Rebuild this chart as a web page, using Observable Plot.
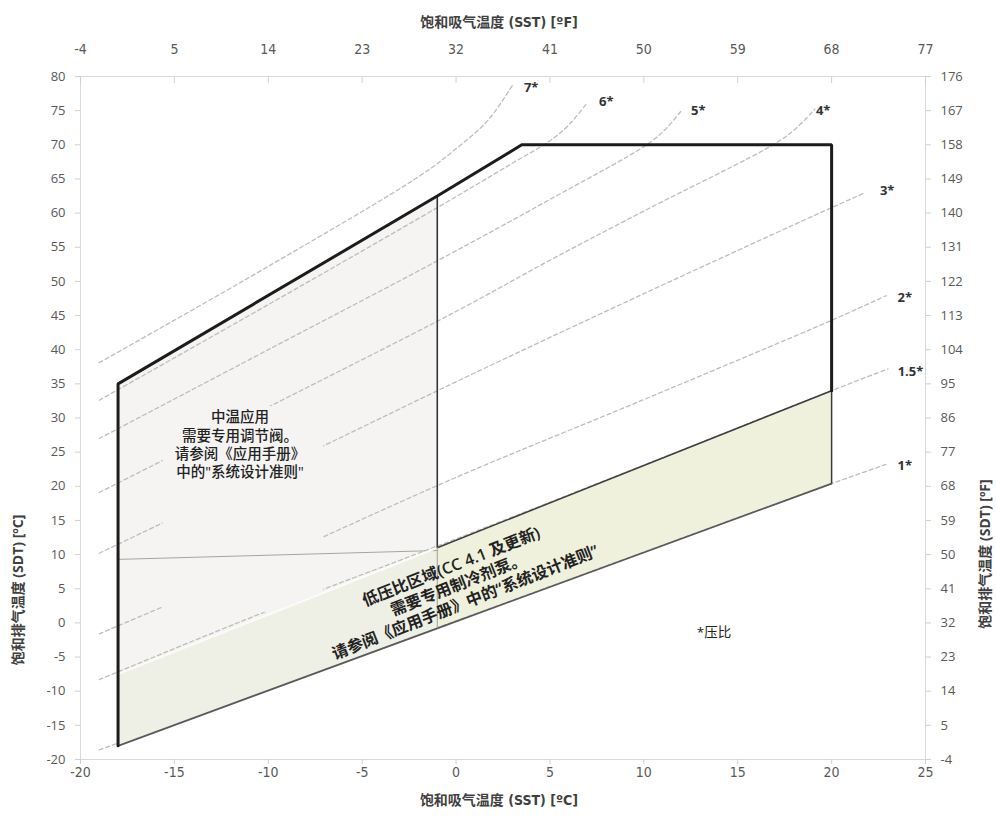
<!DOCTYPE html>
<html><head><meta charset="utf-8">
<script src="https://cdn.jsdelivr.net/npm/d3@7"></script>
<script src="https://cdn.jsdelivr.net/npm/@observablehq/plot@0.6"></script>
<style>body{margin:0;background:#fff} #chart svg{display:block}</style>
</head><body><div id="chart"></div>
<script>
// ---- axes ----
const xTicks = [-20,-15,-10,-5,0,5,10,15,20,25];
const topTickLabels = ["-4","5","14","23","32","41","50","59","68","77"];
const yTicks = [-20,-15,-10,-5,0,5,10,15,20,25,30,35,40,45,50,55,60,65,70,75,80];
const rightTickLabels = ["-4","5","14","23","32","41","50","59","68","77","86","95","104","113","122","131","140","149","158","167","176"];
const titleTop = "饱和吸气温度 (SST) [ºF]";
const titleBottom = "饱和吸气温度 (SST) [ºC]";
const titleLeft = "饱和排气温度 (SDT) [ºC]";
const titleRight = "饱和排气温度 (SDT) [ºF]";

// ---- operating envelope ----
const envelopeSST = [-18, -18, -1, 3.5, 20, 20];
const envelopeSDT = [-18, 35, 62.5, 70, 70, 34];

// medium-temperature zone
const mediumSST = [-18, -1];
const mediumTop = [35, 62.5];
const mediumBottom = [9.3, 10.6];

// low compression ratio zone
const lowSST = [-18, -1, 20];
const lowTop = [-7.5, 11, 34];
const lowBottom = [-18, -0.8, 20.4];

// note background box (data space)
const noteBoxSST = [-15.6, -7.05];
const noteBoxSDT = [1.5, 31.7];

// ---- compression ratio curves ----
const ratioLabels = ["7*","6*","5*","4*","3*","2*","1.5*","1*"];
const r7SST = [-19, -10, -1.9, -0.1, 1.7, 3.0];
const r7SDT = [38.1, 52.2, 65.5, 69.2, 73.6, 78.7];
const r6SST = [-19, -10, -1, 3, 5, 6, 7.0];
const r6SDT = [32.6, 46.6, 60.8, 67.3, 70.6, 72.9, 76.2];
const r5SST = [-19, -10, -0.8, 5, 10.2, 11.2, 12.0];
const r5SDT = [27.0, 40.0, 53.3, 62.0, 70.1, 72.4, 75.0];
const r4SST = [-19, -10, 0, 5, 10, 17, 18.1, 19.1];
const r4SDT = [19.1, 31.6, 45.6, 53.1, 60.3, 70.2, 72.4, 75.2];
const r3SST = [-19, -7, 0, 10, 20, 21.8];
const r3SDT = [10.2, 26.0, 35.3, 48.2, 60.8, 63.0];
const r2SST = [-19, -10, 0, 10, 20, 22.9];
const r2SDT = [-1.6, 9.0, 21.3, 32.7, 44.3, 47.9];
const r15SST = [-19, -10, 0, 10, 20, 23.0];
const r15SDT = [-8.3, 1.8, 12.3, 23.1, 34.0, 37.2];
const r1SST = [-19, 0, 20, 22.9];
const r1SDT = [-18.6, 0.3, 20.4, 23.2];
const ratioLabelSST = [4.0, 8.0, 12.9, 19.55, 22.96, 23.9, 24.2, 23.9];
const ratioLabelSDT = [78.4, 76.3, 75.0, 75.0, 63.3, 47.6, 36.7, 23.0];

// ---- notes ----
const mediumNote = "中温应用\n需要专用调节阀。\n请参阅《应用手册》\n中的\"系统设计准则\"";
const mediumNoteSST = -11.5, mediumNoteSDT = 26.2;
const lowNote = "低压比区域(CC 4.1 及更新)\n需要专用制冷剂泵。\n请参阅《应用手册》中的“系统设计准则”";
const lowNoteSST = 0.1, lowNoteSDT = 5.7;
const footNote = "*压比";
const footNoteSST = 13.74, footNoteSDT = -1.4;

// ---- build tables ----
const curveSets = [[r7SST,r7SDT],[r6SST,r6SDT],[r5SST,r5SDT],[r4SST,r4SDT],[r3SST,r3SDT],[r2SST,r2SDT],[r15SST,r15SDT],[r1SST,r1SDT]];
const curves = curveSets.flatMap(([xs, ys], k) => xs.map((x, i) => ({ratio: ratioLabels[k], x, y: ys[i]})));
const ratioText = ratioLabels.map((t, i) => ({t, x: ratioLabelSST[i], y: ratioLabelSDT[i]}));
const envelope = envelopeSST.map((x, i) => ({x, y: envelopeSDT[i]}));
const medium = mediumSST.map((x, i) => ({x, y1: mediumBottom[i], y2: mediumTop[i]}));
const lowLeftGap = mediumSST.map((x, i) => ({x, y1: lowTop[i], y2: mediumBottom[i]}));
const lowRows = lowSST.map((x, i) => ({x, y1: lowBottom[i], y2: lowTop[i]}));
const lowLeft = lowRows.slice(0, 2);
const lowRight = lowRows.slice(1);

const cond = "'DejaVu Sans Condensed','Liberation Sans Narrow','Noto Sans CJK SC',sans-serif";
const noteFont = "'Open Sans','Noto Sans CJK SC',sans-serif";
const grayZone = "#f5f4f2";
const plain = d => String(d);

const chart = Plot.plot({
  width: 996, height: 836,
  marginLeft: 80, marginRight: 71, marginTop: 76, marginBottom: 77,
  x: {domain: [-20, 25]},
  y: {domain: [-20, 80]},
  style: {fontFamily: "'Open Sans','Noto Sans CJK SC',sans-serif", fontSize: "12px", color: "#595959", background: "#fff"},
  marks: [
    Plot.areaY(medium, {x: "x", y1: "y1", y2: "y2", fill: grayZone}),
    Plot.areaY(lowLeftGap, {x: "x", y1: "y1", y2: "y2", fill: grayZone}),
    Plot.areaY(lowRight, {x: "x", y1: "y1", y2: "y2", fill: "#eff1dc"}),
    Plot.line(curves, {x: "x", y: "y", z: "ratio", stroke: "#bdbdbd", strokeWidth: 1.3, strokeDasharray: "4,3", curve: "catmull-rom"}),
    Plot.rect([0], {x1: () => noteBoxSST[0], x2: () => noteBoxSST[1], y1: () => noteBoxSDT[0], y2: () => noteBoxSDT[1], fill: grayZone}),
    Plot.areaY(lowLeft, {x: "x", y1: "y1", y2: "y2", fill: "#eeefe5"}),
    // thin boundary of medium zone
    Plot.line(mediumSST.map((x, i) => ({x, y: mediumBottom[i]})), {x: "x", y: "y", stroke: "#a5a5a0", strokeWidth: 1}),
    // 1.5 ratio boundary inside medium zone (whitish)
    Plot.line(lowLeft, {x: "x", y: "y2", stroke: "#fbfbf8", strokeWidth: 2}),
    // low ratio zone edges
    Plot.line(lowRight, {x: "x", y: "y2", stroke: "#3d3d3d", strokeWidth: 1.5}),
    Plot.line(lowRows, {x: "x", y: "y1", stroke: "#5a5a5a", strokeWidth: 1.8}),
    Plot.ruleX([lowSST[2]], {y1: lowBottom[2], y2: lowTop[2], stroke: "#3a3a3a", strokeWidth: 1.5}),
    Plot.ruleX([mediumSST[1]], {y1: lowBottom[1], y2: lowTop[1], stroke: "#a8a8a0", strokeWidth: 1.2}),
    Plot.ruleX([mediumSST[1]], {y1: lowTop[1], y2: mediumTop[1], stroke: "#333", strokeWidth: 1.6}),
    // envelope
    Plot.line(envelope, {x: "x", y: "y", stroke: "#1c1c1c", strokeWidth: 3, strokeLinejoin: "miter"}),
    // frame & axes
    Plot.frame({stroke: "#d9d9d9"}),
    Plot.axisX(xTicks, {anchor: "bottom", tickSize: 5, tickPadding: 3, stroke: "#cfcfcf", tickFormat: plain, label: null, fontFamily: cond, fontSize: 14}),
    Plot.axisX(xTicks, {anchor: "top", tickSize: 6, dy: 6, stroke: "#cfcfcf", tickFormat: () => "", label: null}),
    Plot.axisX(xTicks, {anchor: "top", tickSize: 0, tickPadding: 23, tickFormat: (d, i) => topTickLabels[i], label: null, fontFamily: cond, fontSize: 14}),
    Plot.axisY(yTicks, {anchor: "left", tickSize: 5, tickPadding: 10, stroke: "#cfcfcf", tickFormat: plain, label: null, fontSize: 13}),
    Plot.axisY(yTicks, {anchor: "right", tickSize: 5, tickPadding: 10, stroke: "#cfcfcf", tickFormat: (d, i) => rightTickLabels[i], label: null, fontSize: 13}),
    Plot.text([titleTop], {frameAnchor: "top", dy: -54, dx: -4, lineAnchor: "middle", textAnchor: "middle", fontFamily: cond, fontWeight: "bold", fontSize: 14, fill: "#404040"}),
    Plot.text([titleBottom], {frameAnchor: "bottom", dy: 41, dx: -4, lineAnchor: "middle", textAnchor: "middle", fontFamily: cond, fontWeight: "bold", fontSize: 14, fill: "#404040"}),
    Plot.text([titleLeft], {frameAnchor: "left", dx: -62, dy: 172, rotate: -90, lineAnchor: "middle", textAnchor: "middle", fontWeight: "bold", fontSize: 14, fill: "#404040"}),
    Plot.text([titleRight], {frameAnchor: "right", dx: 60, dy: 136, rotate: -90, lineAnchor: "middle", textAnchor: "middle", fontWeight: "bold", fontSize: 14, fill: "#404040"}),
    // labels
    Plot.text(ratioText, {x: "x", y: "y", text: "t", fontWeight: "bold", fontSize: 13, fill: "#333"}),
    Plot.text([mediumNote], {x: () => mediumNoteSST, y: () => mediumNoteSDT, fontSize: 14.5, lineHeight: 1.27, fill: "#222", fontWeight: 500, fontFamily: noteFont}),
    Plot.text([lowNote], {x: () => lowNoteSST, y: () => lowNoteSDT, rotate: -21.5, fontSize: 16, lineHeight: 1.2, fill: "#222", fontWeight: 600, fontFamily: noteFont}),
    Plot.text([footNote], {x: () => footNoteSST, y: () => footNoteSDT, fontSize: 13.5, fill: "#222", fontFamily: noteFont})
  ]
});
document.getElementById("chart").append(chart);
</script>
</body></html>
